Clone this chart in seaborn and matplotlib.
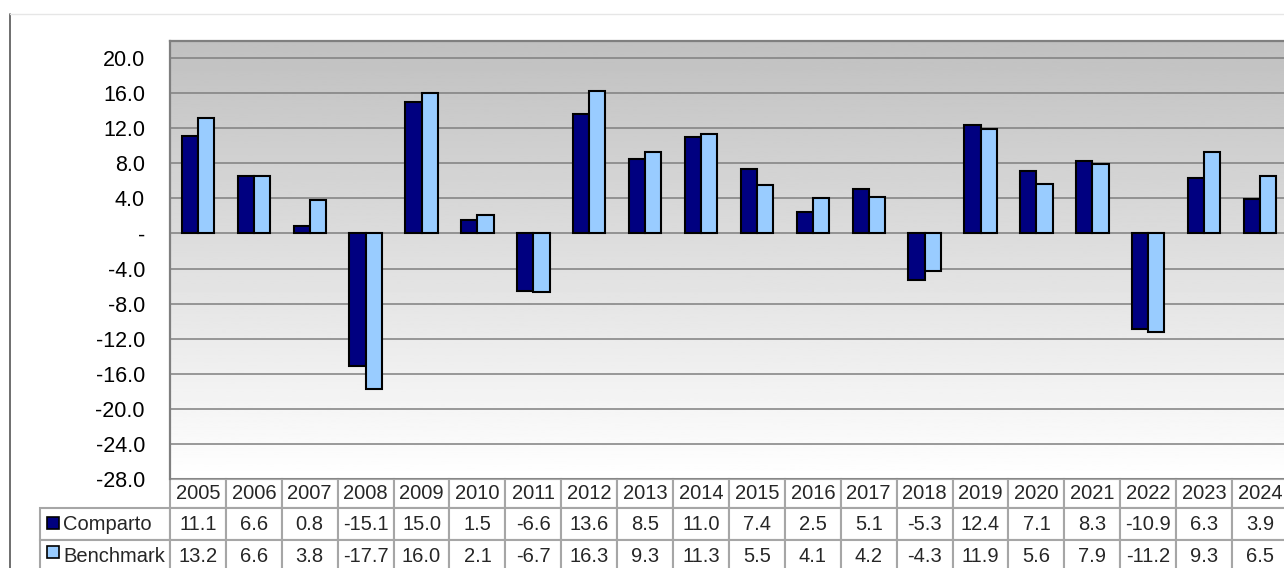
import numpy as np
import pandas as pd
import matplotlib
matplotlib.use("Agg")
import matplotlib.pyplot as plt
import seaborn as sns
from matplotlib.ticker import FuncFormatter, MultipleLocator
from matplotlib.patches import Rectangle
from matplotlib.lines import Line2D

# Data
years = [str(y) for y in range(2005, 2025)]
comparto = [11.1, 6.6, 0.8, -15.1, 15.0, 1.5, -6.6, 13.6, 8.5, 11.0,
            7.4, 2.5, 5.1, -5.3, 12.4, 7.1, 8.3, -10.9, 6.3, 3.9]
benchmark = [13.2, 6.6, 3.8, -17.7, 16.0, 2.1, -6.7, 16.3, 9.3, 11.3,
             5.5, 4.1, 4.2, -4.3, 11.9, 5.6, 7.9, -11.2, 9.3, 6.5]
series = ["Comparto", "Benchmark"]
colors = ["#000080", "#99ccff"]

df = pd.DataFrame({
    "Anno": years * 2,
    "Serie": [series[0]] * len(years) + [series[1]] * len(years),
    "Rendimento": comparto + benchmark,
})

sns.set_theme(style="white")
plt.rcParams["font.family"] = ["Liberation Sans", "DejaVu Sans"]

W, H = 1284, 568
fig = plt.figure(figsize=(W / 100, H / 100), dpi=100)
ax = fig.add_axes([170 / W, 1 - 479 / H, 1118 / W, 438 / H])

# Bars
sns.barplot(data=df, x="Anno", y="Rendimento", hue="Serie", hue_order=series,
            palette=colors, saturation=1, width=0.58, edgecolor="black",
            linewidth=1.5, legend=False, ax=ax)

# Gradient background (gray at top -> white at bottom)
grad = np.linspace(192 / 255, 1.0, 256).reshape(-1, 1)
ax.imshow(grad, cmap="gray", vmin=0, vmax=1, extent=(0, 1, 0, 1),
          transform=ax.transAxes, aspect="auto", zorder=0)

ax.set_xlim(-0.5, len(years) - 0.5)
ax.set_ylim(-28, 21.95)
ax.yaxis.set_major_locator(MultipleLocator(4))
ax.yaxis.set_major_formatter(FuncFormatter(lambda v, p: "-" if abs(v) < 1e-9 else f"{v:.1f}"))
ax.yaxis.grid(True, color="#7f7f7f", linewidth=1.1)
ax.set_axisbelow(True)
ax.tick_params(axis="y", length=0, pad=18, labelsize=15.5, labelcolor="black")
ax.tick_params(axis="x", length=0)
ax.set_xticklabels([])
ax.set_xlabel("")
ax.set_ylabel("")
for side in ["left", "top"]:
    ax.spines[side].set_color("#7f7f7f")
    ax.spines[side].set_linewidth(1.6)
ax.spines["right"].set_visible(False)
ax.spines["bottom"].set_visible(False)

# Data table under the chart, first column holds the series names
label_w = 130 / 1118
cell_text = [[series[0]] + [f"{v:.1f}" for v in comparto],
             [series[1]] + [f"{v:.1f}" for v in benchmark]]
tbl = ax.table(cellText=cell_text, colLabels=[""] + years,
               colWidths=[130] + [55.9] * len(years), cellLoc="center",
               bbox=[-label_w, -93 / 438, 1 + label_w, 93 / 438])
tbl.auto_set_font_size(False)
for (r, c), cell in tbl.get_celld().items():
    cell.set_height(29 if r == 0 else 32)
    cell.set_edgecolor("#a6a6a6")
    cell.set_linewidth(1.5)
    cell.set_facecolor("white")
    cell.get_text().set_fontsize(14.5)
    if c == 0:
        cell.get_text().set_horizontalalignment("left")
        cell._loc = "left"
        cell.PAD = 0.177
        if r == 0:
            cell.visible_edges = ""

# Legend keys inside the row labels
for col, yc in zip(colors, [523, 552]):
    fig.add_artist(Rectangle((47 / W, 1 - (yc + 6) / H), 12 / W, 12 / H,
                             transform=fig.transFigure, facecolor=col,
                             edgecolor="black", linewidth=1.2, zorder=10))

# Chart frame edges
fig.add_artist(Line2D([9.5 / W, 9.5 / W], [0, 1 - 14 / H], color="#555555", linewidth=1.2))
fig.add_artist(Line2D([9.5 / W, 1], [1 - 14 / H, 1 - 14 / H], color="#e6e6e6", linewidth=1))

fig.savefig("out.png", dpi=100)
